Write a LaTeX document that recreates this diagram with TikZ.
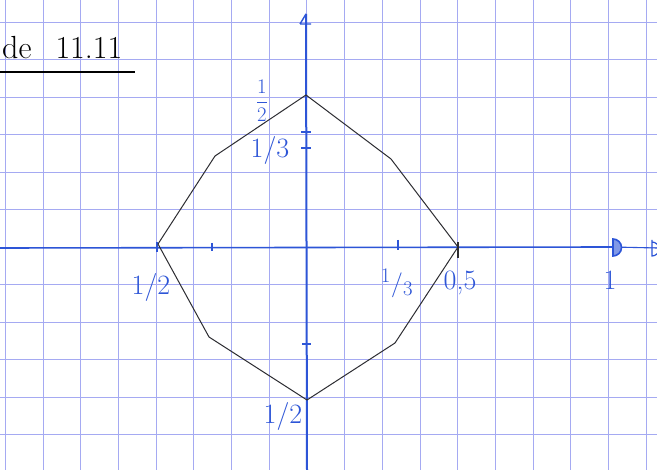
\documentclass[tikz,border=0pt]{standalone}
\usetikzlibrary{positioning}
\definecolor{gridblue}{RGB}{165,170,242}
\definecolor{penblue}{RGB}{45,85,215}
\definecolor{pencil}{RGB}{45,45,50}

\begin{document}
\begin{tikzpicture}[x=1pt, y=-1pt,
  lab/.style={penblue, font=\fontsize{28}{30}\selectfont, inner sep=0pt},
  tick/.style={penblue, line width=1.2pt}]
  \useasboundingbox (0,0) rectangle (657,470);
  \clip (0,0) rectangle (657,470);
  \fill[white] (0,0) rectangle (657,470);
  % squared paper
  \foreach \k in {0,...,17}
    \draw[gridblue, line width=0.9pt] ({5.3+37.7*\k},0) -- ({5.3+37.7*\k},470);
  \foreach \k in {0,...,12}
    \draw[gridblue, line width=0.9pt] (0,{22+37.5*\k}) -- (657,{22+37.5*\k});
  % title
  \node[anchor=base west, font=\fontsize{32}{34}\selectfont, inner sep=0pt] (title) at (2,59) {de\hspace{24pt}11.11};
  \coordinate (ulstart) at (0,72);
  \coordinate (ulend) at (135,72);
  \draw[line width=1.1pt] (ulstart) -- (ulend);
  % axes
  \coordinate (xstart) at (0,248);
  \coordinate (xone) at (613,247);
  \coordinate (xend) at (657,248);
  \coordinate (ybot) at (307,470);
  \coordinate (ytop) at (306,14);
  \draw[penblue, line width=1.6pt] (xstart) -- (xone);
  \draw[penblue, line width=1.1pt] (xone) -- (xend);
  \draw[penblue, line width=2pt] (ybot) -- (ytop);
  \draw[penblue, line width=1.4pt] (300,24) -- (ytop) (300,24) -- (311,24);
  % marks on the x axis at 1
  \draw[penblue, line width=1.6pt, fill=penblue!60] (613,239) -- (613,256) arc[start angle=-90, end angle=90, radius=8.5pt] -- cycle;
  \draw[penblue, line width=1.2pt] (652,240) -- (652,256) arc[start angle=-90, end angle=90, radius=7pt] -- cycle;
  % ticks
  \draw[tick] (212,243) -- (212,251);
  \draw[tick] (398,240) -- (398,250);
  \draw[tick] (301,132) -- (311,132);
  \draw[tick] (301,148) -- (311,148);
  \draw[tick] (302,344) -- (311,344);
  \draw[tick, line width=2pt] (157,242) -- (157,252);
  \draw[pencil, line width=2.6pt] (458,242) -- (458,258);
  % octagon
  \coordinate (top) at (306,95);
  \coordinate (ur) at (391,159);
  \coordinate (right) at (458,247);
  \coordinate (lr) at (395,343);
  \coordinate (bot) at (307,400);
  \coordinate (ll) at (209,337);
  \coordinate (left) at (158,244);
  \coordinate (ul) at (215,156);
  \draw[pencil, line width=1pt, line join=round]
    (top) -- (ur) -- (right) -- (lr) -- (bot) -- (ll) -- (left) -- (ul) -- cycle;
  % labels
  \node[lab, font=\fontsize{22}{24}\selectfont] (halftop) at (262,101) {$\displaystyle\frac{1}{2}$};
  \node[lab] (thirdy) at (270,151) {1/3};
  \node[lab] (halfleft) at (151,288) {1/2};
  \node[lab] (thirdx) at (397,283) {$^1/_3$};
  \node[lab] (pointfive) at (460,283) {0,5};
  \node[lab] (one) at (610,280) {1};
  \node[lab] (halfbot) at (283,417) {1/2};
\end{tikzpicture}
\end{document}
